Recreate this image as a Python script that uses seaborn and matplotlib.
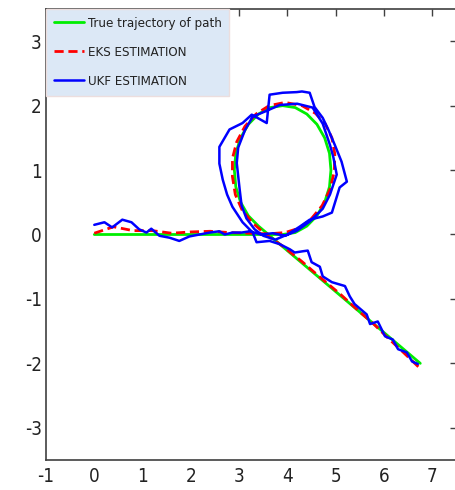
import matplotlib
matplotlib.use("Agg")
import matplotlib.pyplot as plt
from matplotlib import font_manager as fm
import seaborn as sns
import pandas as pd

# ---- data ----
true_x = [0, 1.0, 2.0, 3.0, 3.9, 4.16, 4.40, 4.61, 4.77, 4.87, 4.90, 4.87, 4.77, 4.61, 4.40,
          4.16, 3.90, 3.64, 3.40, 3.19, 3.03, 2.93, 2.90, 2.93, 3.03, 3.19, 3.40, 6.75]
true_y = [0, 0, 0, 0, 0, 0.03, 0.13, 0.29, 0.50, 0.74, 1.00, 1.26, 1.50, 1.71, 1.87,
          1.97, 2.00, 1.97, 1.87, 1.71, 1.50, 1.26, 1.00, 0.74, 0.50, 0.29, 0.13, -2.0]

eks_x = [0, 0.4, 0.8, 1.2, 1.6, 2.0, 2.4, 2.8, 3.2, 3.6, 3.95, 4.25, 4.5, 4.72, 4.88, 4.97,
         4.98, 4.92, 4.78, 4.58, 4.3, 3.95, 3.62, 3.35, 3.12, 2.95, 2.86, 2.86, 2.92, 3.06,
         3.28, 3.55, 3.9, 4.3, 4.7, 5.1, 5.45, 5.8, 6.1, 6.4, 6.72]
eks_y = [0.02, 0.12, 0.06, 0.06, 0.02, 0.04, 0.05, 0.03, 0.02, 0.01, 0.03, 0.1, 0.25, 0.45,
         0.7, 0.98, 1.25, 1.5, 1.72, 1.88, 2.0, 2.05, 2.0, 1.87, 1.68, 1.44, 1.18, 0.9, 0.62,
         0.38, 0.18, 0.0, -0.18, -0.42, -0.68, -0.93, -1.17, -1.40, -1.62, -1.83, -2.06]

ukf_x = [0, 0.21, 0.37, 0.58, 0.77, 0.93, 1.08, 1.18, 1.35, 1.56, 1.76, 1.97, 2.18, 2.39,
         2.59, 2.70, 2.86, 3.05, 3.22, 3.45, 3.7, 3.95, 4.2,
         4.46, 4.73, 4.88, 5.02, 4.95, 4.88, 4.73, 4.52, 4.2, 3.84, 3.57, 3.28, 3.12, 2.98,
         2.95, 3.01, 3.05, 3.15, 3.32, 3.5, 3.75, 4.0, 4.25,
         4.46, 4.73, 4.92, 5.08, 5.23, 5.12, 4.98, 4.85, 4.73, 4.56, 4.46, 4.3, 4.19, 3.90,
         3.63, 3.57, 3.26, 3.07, 2.80, 2.59, 2.59, 2.66, 2.75, 2.86, 3.07, 3.28, 3.36, 3.63,
         3.84,
         4.05, 4.15, 4.32, 4.42, 4.5, 4.67, 4.73, 4.92, 5.19, 5.29, 5.39, 5.64, 5.71, 5.87,
         6.02, 6.18, 6.29, 6.47, 6.58, 6.70]
ukf_y = [0.15, 0.19, 0.11, 0.23, 0.19, 0.08, 0.03, 0.09, -0.02, -0.05, -0.10, -0.03, 0.0,
         0.03, 0.05, 0.0, 0.03, 0.03, 0.05, 0.0, 0.02, -0.02, 0.06,
         0.2, 0.4, 0.62, 0.93, 1.2, 1.39, 1.72, 1.97, 2.03, 2.01, 1.92, 1.83, 1.62, 1.35,
         1.11, 0.70, 0.45, 0.25, 0.08, -0.02, -0.08, 0.0, 0.12,
         0.23, 0.28, 0.34, 0.73, 0.82, 1.13, 1.39, 1.62, 1.81, 1.98, 2.20, 2.22, 2.21, 2.20,
         2.17, 1.73, 1.86, 1.73, 1.63, 1.36, 1.10, 0.85, 0.62, 0.43, 0.19, 0.03, -0.12,
         -0.10, -0.15,
         -0.23, -0.28, -0.26, -0.25, -0.43, -0.50, -0.65, -0.74, -0.80, -0.96, -1.08, -1.24,
         -1.39, -1.35, -1.58, -1.63, -1.78, -1.83, -1.97, -2.01]

series_labels = ["True trajectory of path", "EKS ESTIMATION", "UKF ESTIMATION"]
x_ticks = [-1, 0, 1, 2, 3, 4, 5, 6, 7]
y_ticks = [-3, -2, -1, 0, 1, 2, 3]

# ---- style ----
sns.set_style("white")

# choose a narrow font if one is installed
fonts = fm.fontManager.ttflist
names = {f.name for f in fonts}
if "Liberation Sans Narrow" in names:
    family, stretch, leg_fs, tick_fs = "Liberation Sans Narrow", "normal", 11.5, 14
elif any(f.name == "DejaVu Sans" and f.stretch in ("condensed", 375, "semi-condensed")
         for f in fonts):
    family, stretch, leg_fs, tick_fs = "DejaVu Sans", "condensed", 9.5, 13.5
else:
    family, stretch, leg_fs, tick_fs = "Liberation Sans", "normal", 9.5, 13.5

plt.rcParams["font.family"] = [family, "DejaVu Sans"]
plt.rcParams["font.stretch"] = stretch
plt.rcParams["axes.unicode_minus"] = False

fig = plt.figure(figsize=(4.55, 4.90), dpi=100)
ax = fig.add_axes([46 / 455, 30 / 490, 410.5 / 455, 451 / 490])

df_true = pd.DataFrame({"x": true_x, "y": true_y})
df_eks = pd.DataFrame({"x": eks_x, "y": eks_y})
df_ukf = pd.DataFrame({"x": ukf_x, "y": ukf_y})

sns.lineplot(data=df_true, x="x", y="y", sort=False, estimator=None, ax=ax,
             color="#00ee00", lw=2.0, label=series_labels[0])
sns.lineplot(data=df_eks, x="x", y="y", sort=False, estimator=None, ax=ax,
             color="#ff0000", lw=2.0, label=series_labels[1])
sns.lineplot(data=df_ukf, x="x", y="y", sort=False, estimator=None, ax=ax,
             color="#0000ff", lw=1.8, label=series_labels[2])
ax.get_lines()[1].set_dashes((3.3, 1.7))

ax.set_xlim(-1, 7.5)
ax.set_ylim(-3.5, 3.5)
ax.set_xticks(x_ticks)
ax.set_yticks(y_ticks)
ax.set_xlabel("")
ax.set_ylabel("")
ax.tick_params(direction="in", length=5, width=1, color="#404040", labelcolor="#222222",
               top=True, right=True, labelsize=tick_fs, pad=5)
ax.tick_params(axis="y", pad=3)
for s in ax.spines.values():
    s.set_visible(True)
    s.set_color("#404040")
    s.set_linewidth(1.2)

leg = ax.legend(loc="upper left", bbox_to_anchor=(0, 1), borderaxespad=0,
                fontsize=leg_fs, handlelength=2.3, handletextpad=0.25,
                labelspacing=1.2, borderpad=0.6, fancybox=False, framealpha=1)
leg.get_frame().set_facecolor("#dce8f6")
leg.get_frame().set_edgecolor("#ecdede")
leg.get_frame().set_linewidth(1.0)
for t in leg.get_texts():
    t.set_color("#222222")

fig.savefig("out.png", dpi=100)
